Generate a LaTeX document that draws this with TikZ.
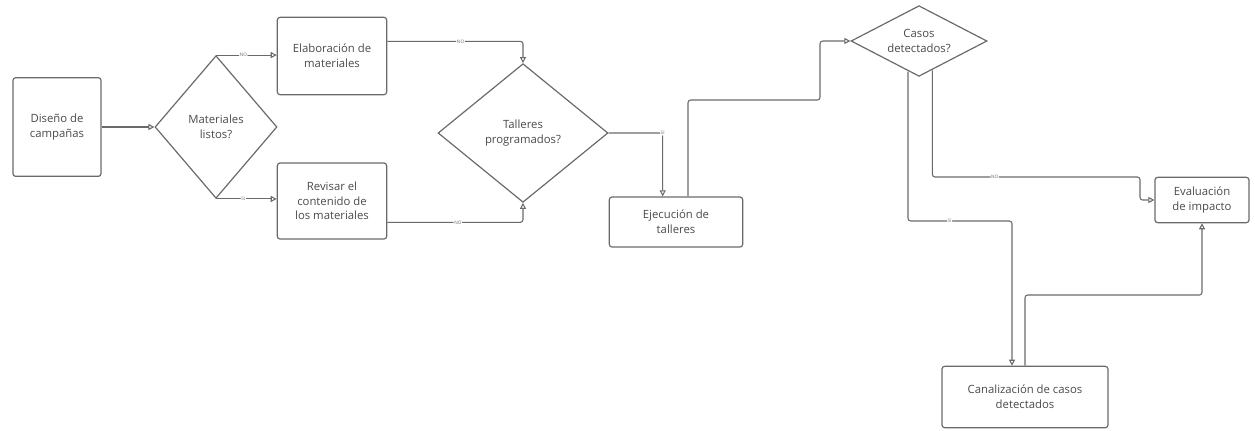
\documentclass[tikz,border=0pt]{standalone}
\usepackage{fontspec}
\setmainfont{Open Sans}
\usetikzlibrary{arrows.meta, shapes.geometric, positioning}
\definecolor{linea}{HTML}{6A6A6A}
\definecolor{texto}{HTML}{4A4A4A}

\begin{document}
\begin{tikzpicture}[
    x=0.75pt, y=-0.75pt,
    caja/.style = {rectangle, rounded corners=2pt, draw=linea, line width=0.9pt, align=center, inner sep=1pt, text=texto},
    rombo/.style = {diamond, draw=linea, line width=0.9pt, align=center, inner sep=0pt, text=texto},
    pil/.style = {linea, line width=0.8pt, rounded corners=2pt, -{Triangle[open, length=4.5pt, width=4.5pt]}},
    etiq/.style = {fill=white, inner sep=0.6pt, font=\fontsize{3.5}{3.5}\selectfont, text=linea},
    font=\fontsize{8.5}{11}\selectfont
    ]

  \useasboundingbox (0,0) rectangle (1255,430);

  \node[caja, minimum width=66pt, minimum height=74pt] (dis) at (57,127) {Diseño de\\campañas} ;
  \node[rombo, minimum width=91.5pt, minimum height=107pt] (mat) at (216,127) {Materiales\\listos?} ;
  \node[caja, minimum width=82pt, minimum height=58pt] (ela) at (332,56) {Elaboración de\\materiales} ;
  \node[caja, minimum width=82pt, minimum height=57pt] (rev) at (332,201) {Revisar el\\contenido de\\los materiales} ;
  \node[rombo, minimum width=127.5pt, minimum height=104pt] (tal) at (523,133) {Talleres\\programados?} ;
  \node[caja, minimum width=100pt, minimum height=37.5pt] (eje) at (676,222) {Ejecución de\\talleres} ;
  \node[rombo, aspect=2, minimum width=102pt, minimum height=53pt] (cas) at (919,41) {Casos\\detectados?} ;
  \node[caja, minimum width=70.5pt, minimum height=34pt] (eva) at (1202,200) {Evaluación\\de impacto} ;
  \node[caja, minimum width=124.5pt, minimum height=46pt] (can) at (1025,397) {Canalización de casos\\detectados} ;

  \coordinate (c1) at (820,100);
  \coordinate (c2) at (1140,177);
  \coordinate (c3) at (1012,221);
  \coordinate (c4) at (1202,295);

  \draw[pil] (dis) -- (mat);
  \draw[pil] (mat.north) -- node[etiq, pos=0.45]{NO} (mat.north -| ela.west);
  \draw[pil] (mat.south) -- node[etiq, pos=0.45]{SI} (mat.south -| rev.west);

  \draw[pil] ([yshift=11pt]ela.east) -| node[etiq, pos=0.27]{NO} (tal.north);
  \draw[pil] ([yshift=-16pt]rev.east) -| node[etiq, pos=0.26]{NO} (tal.south);

  \draw[pil] (tal.east) -| node[etiq, pos=0.5]{SI} ([xshift=-10pt]eje.north);
  \draw[pil] ([xshift=9pt]eje.north) |- (c1) |- (cas.west);

  \draw[pil] ([xshift=10pt, yshift=5pt]cas.south) |- node[etiq, pos=0.65]{NO} (c2) |- (eva.west);
  \draw[pil] ([xshift=-8.25pt, yshift=4pt]cas.south) |- node[etiq, pos=0.7]{SI} (c3) -- (c3 |- can.north);

  \draw[pil] (can.north) |- (c4) -- (eva.south);

\end{tikzpicture}
\end{document}
